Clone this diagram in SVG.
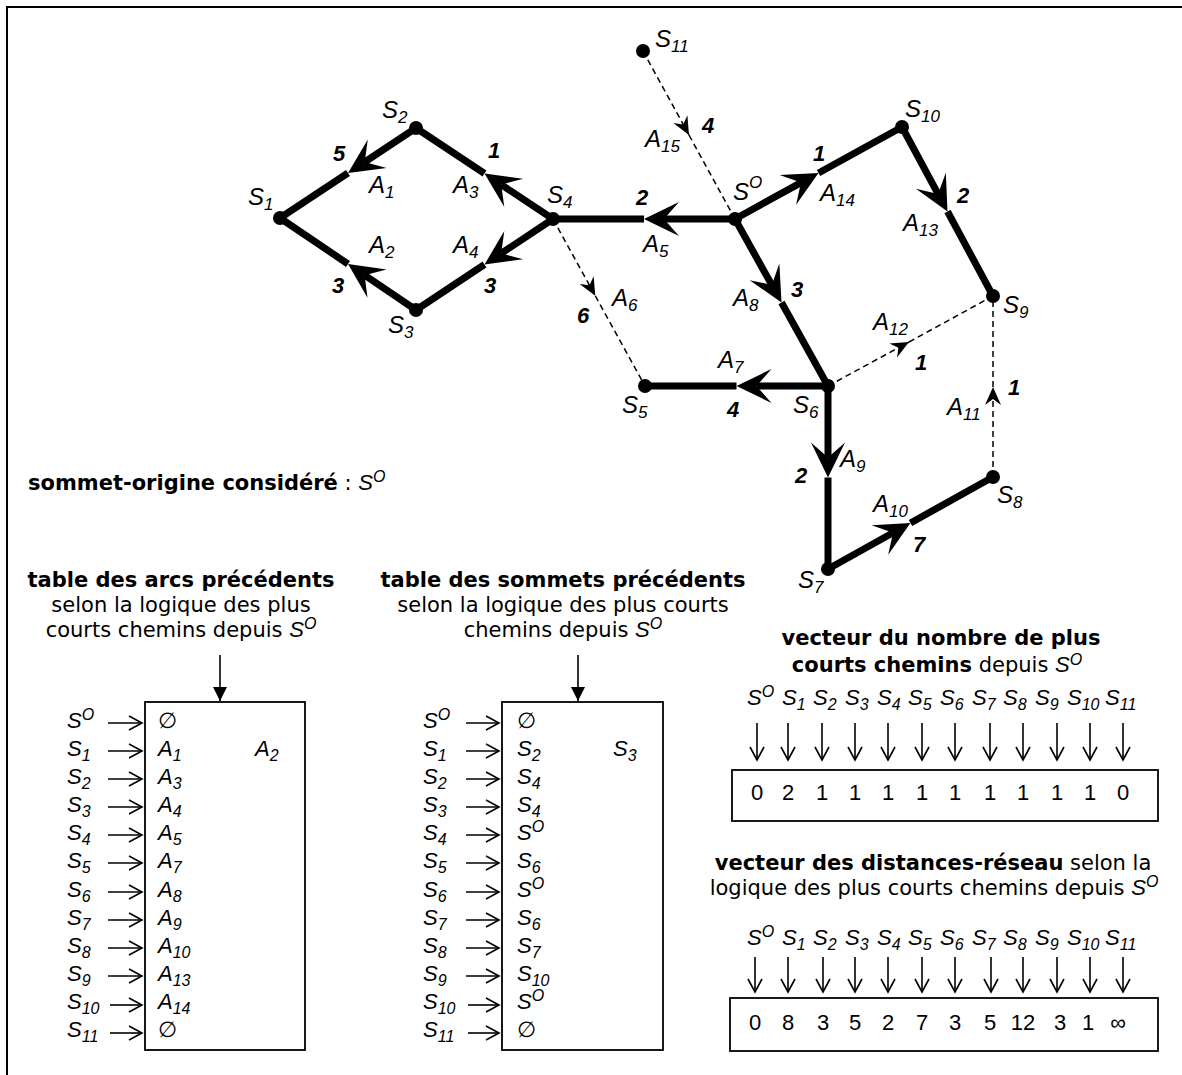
<svg xmlns="http://www.w3.org/2000/svg" width="1182" height="1075" viewBox="0 0 1182 1075">
<style>
.n{font-family:"Liberation Sans",Arial,sans-serif;font-style:italic;font-size:24px;fill:#000}
.n .s{font-size:17px}
.n .o{font-size:17px}
.w{font-family:"Liberation Sans",Arial,sans-serif;font-style:italic;font-weight:bold;font-size:22px;fill:#000}
.t{font-family:"Liberation Sans","DejaVu Sans",Arial,sans-serif;font-style:italic;font-size:22px;fill:#000}
.t .s,.t .o{font-size:16px}
.it{font-family:"Liberation Sans",Arial,sans-serif;font-style:italic;font-size:22px}
.it.o{font-size:16px}
.v{font-family:"Liberation Sans",Arial,sans-serif;font-size:22px;text-anchor:middle;fill:#000}
.tl{font-family:"DejaVu Sans",Verdana,sans-serif;font-size:21px;fill:#000}
.b{font-weight:bold}
.mid{text-anchor:middle}
.thick{stroke:#000;stroke-width:7;fill:none}
.dash{stroke:#000;stroke-width:1.5;stroke-dasharray:6 4;fill:none}
.thin{stroke:#000;stroke-width:1.6;fill:none}
.box{stroke:#000;stroke-width:1.8;fill:#fff}
.dot{fill:#000}
</style>
<defs>
<marker id="ah" markerUnits="userSpaceOnUse" orient="auto" markerWidth="60" markerHeight="60" viewBox="-30 -30 60 60" refX="0" refY="0" overflow="visible">
<path d="M20,0 L-15,-17 L0,0 L-15,17 Z" fill="#000"/>
</marker>
<marker id="dh" markerUnits="userSpaceOnUse" orient="auto" markerWidth="40" markerHeight="40" viewBox="-20 -20 40 40" refX="0" refY="0" overflow="visible">
<path d="M0,0 L-18,-8 L-12,0 L-18,8 Z" fill="#000"/>
</marker>
<marker id="oa" markerUnits="userSpaceOnUse" orient="auto" markerWidth="40" markerHeight="40" viewBox="-20 -20 40 40" refX="0" refY="0" overflow="visible">
<path d="M-13,-7 L0,0 L-13,7" fill="none" stroke="#000" stroke-width="1.6"/>
</marker>
<marker id="tri" markerUnits="userSpaceOnUse" orient="auto" markerWidth="40" markerHeight="40" viewBox="-20 -20 40 40" refX="0" refY="0" overflow="visible">
<path d="M0,0 L-14,-7 L-14,7 Z" fill="#000"/>
</marker>
</defs>

<rect width="1182" height="1075" fill="#fff"/>
<path d="M7,1075 V7 H1182" fill="none" stroke="#000" stroke-width="2"/>

<g id="connectors">
<line class="thick" x1="416" y1="128" x2="364.7" y2="162" marker-end="url(#ah)"/><line class="thick" x1="348" y1="173" x2="280" y2="218"/>
<line class="thick" x1="416" y1="310" x2="364.6" y2="275.2" marker-end="url(#ah)"/><line class="thick" x1="348" y1="264" x2="280" y2="218"/>
<line class="thick" x1="553" y1="219" x2="501.2" y2="184.6" marker-end="url(#ah)"/><line class="thick" x1="484.5" y1="173.5" x2="416" y2="128"/>
<line class="thick" x1="553" y1="219" x2="501.2" y2="253.4" marker-end="url(#ah)"/><line class="thick" x1="484.5" y1="264.5" x2="416" y2="310"/>
<line class="thick" x1="735" y1="219" x2="664" y2="219" marker-end="url(#ah)"/><line class="thick" x1="644" y1="219" x2="553" y2="219"/>
<line class="thick" x1="735" y1="219" x2="801" y2="182.6" marker-end="url(#ah)"/><line class="thick" x1="818.5" y1="173" x2="902" y2="127"/>
<line class="thick" x1="902" y1="127" x2="938" y2="193.9" marker-end="url(#ah)"/><line class="thick" x1="947.5" y1="211.5" x2="993" y2="296"/>
<line class="thick" x1="735" y1="219" x2="771.8" y2="285" marker-end="url(#ah)"/><line class="thick" x1="781.5" y1="302.5" x2="828" y2="386"/>
<line class="thick" x1="828" y1="386" x2="756.5" y2="386" marker-end="url(#ah)"/><line class="thick" x1="736.5" y1="386" x2="645" y2="386"/>
<line class="thick" x1="828" y1="386" x2="828" y2="457.5" marker-end="url(#ah)"/><line class="thick" x1="828" y1="477.5" x2="828" y2="569"/>
<line class="thick" x1="828" y1="569" x2="893" y2="532.7" marker-end="url(#ah)"/><line class="thick" x1="910.5" y1="523" x2="993" y2="477"/>
<line class="dash" x1="643" y1="51" x2="689" y2="135" marker-end="url(#dh)"/><line class="dash" x1="689" y1="135" x2="735" y2="219"/>
<line class="dash" x1="553" y1="219" x2="595.3" y2="295.8" marker-end="url(#dh)"/><line class="dash" x1="595.3" y1="295.8" x2="645" y2="386"/>
<line class="dash" x1="828" y1="386" x2="909" y2="342" marker-end="url(#dh)"/><line class="dash" x1="909" y1="342" x2="993" y2="296"/>
<line class="dash" x1="993" y1="477" x2="993" y2="387" marker-end="url(#dh)"/><line class="dash" x1="993" y1="387" x2="993" y2="296"/>
</g>

<g id="arc-labels">
<text class="n" x="369" y="193">A<tspan class="s" dy="5">1</tspan></text>
<text class="n" x="369" y="253">A<tspan class="s" dy="5">2</tspan></text>
<text class="n" x="453" y="193">A<tspan class="s" dy="5">3</tspan></text>
<text class="n" x="453" y="253">A<tspan class="s" dy="5">4</tspan></text>
<text class="n" x="643" y="252">A<tspan class="s" dy="5">5</tspan></text>
<text class="n" x="612" y="306">A<tspan class="s" dy="5">6</tspan></text>
<text class="n" x="718" y="368">A<tspan class="s" dy="5">7</tspan></text>
<text class="n" x="733" y="306">A<tspan class="s" dy="5">8</tspan></text>
<text class="n" x="840" y="467">A<tspan class="s" dy="5">9</tspan></text>
<text class="n" x="873" y="512">A<tspan class="s" dy="5">10</tspan></text>
<text class="n" x="947" y="415">A<tspan class="s" dy="5">11</tspan></text>
<text class="n" x="873" y="330">A<tspan class="s" dy="5">12</tspan></text>
<text class="n" x="903" y="231">A<tspan class="s" dy="5">13</tspan></text>
<text class="n" x="820" y="201">A<tspan class="s" dy="5">14</tspan></text>
<text class="n" x="645" y="147">A<tspan class="s" dy="5">15</tspan></text>
<text class="w" x="333" y="161">5</text>
<text class="w" x="488" y="158">1</text>
<text class="w" x="332" y="293">3</text>
<text class="w" x="484" y="293">3</text>
<text class="w" x="636" y="205">2</text>
<text class="w" x="702" y="133">4</text>
<text class="w" x="813" y="161">1</text>
<text class="w" x="957" y="203">2</text>
<text class="w" x="791" y="297">3</text>
<text class="w" x="577" y="323">6</text>
<text class="w" x="915" y="370">1</text>
<text class="w" x="727" y="417">4</text>
<text class="w" x="1008" y="395">1</text>
<text class="w" x="795" y="483">2</text>
<text class="w" x="913" y="552">7</text>
</g>

<g id="S1"><circle class="dot" cx="280" cy="218" r="7"/><text class="n" x="248" y="205">S<tspan class="s" dy="5">1</tspan></text></g>
<g id="S2"><circle class="dot" cx="416" cy="128" r="7"/><text class="n" x="382" y="118">S<tspan class="s" dy="5">2</tspan></text></g>
<g id="S3"><circle class="dot" cx="416" cy="310" r="7"/><text class="n" x="388" y="333">S<tspan class="s" dy="5">3</tspan></text></g>
<g id="S4"><circle class="dot" cx="553" cy="219" r="7"/><text class="n" x="547" y="203">S<tspan class="s" dy="5">4</tspan></text></g>
<g id="SO"><circle class="dot" cx="735" cy="219" r="7"/><text class="n" x="733" y="200">S<tspan class="o" dy="-12">O</tspan></text></g>
<g id="S5"><circle class="dot" cx="645" cy="386" r="7"/><text class="n" x="622" y="413">S<tspan class="s" dy="5">5</tspan></text></g>
<g id="S6"><circle class="dot" cx="828" cy="386" r="7"/><text class="n" x="793" y="413">S<tspan class="s" dy="5">6</tspan></text></g>
<g id="S7"><circle class="dot" cx="828" cy="569" r="7"/><text class="n" x="798" y="588">S<tspan class="s" dy="5">7</tspan></text></g>
<g id="S8"><circle class="dot" cx="993" cy="477" r="7"/><text class="n" x="997" y="503">S<tspan class="s" dy="5">8</tspan></text></g>
<g id="S9"><circle class="dot" cx="993" cy="296" r="7"/><text class="n" x="1003" y="313">S<tspan class="s" dy="5">9</tspan></text></g>
<g id="S10"><circle class="dot" cx="902" cy="127" r="7"/><text class="n" x="905" y="117">S<tspan class="s" dy="5">10</tspan></text></g>
<g id="S11"><circle class="dot" cx="643" cy="51" r="7"/><text class="n" x="655" y="47">S<tspan class="s" dy="5">11</tspan></text></g>

<g id="origin-note">
<text class="tl" x="28" y="490"><tspan class="b">sommet-origine considéré</tspan> : <tspan class="it">S</tspan><tspan class="it o" dy="-8">O</tspan></text>
</g>

<g id="table-arcs">
<text class="tl b mid" x="181" y="587">table des arcs précédents</text>
<text class="tl mid" x="181" y="612">selon la logique des plus</text>
<text class="tl mid" x="181" y="637">courts chemins depuis <tspan class="it">S</tspan><tspan class="it o" dy="-8">O</tspan></text>
<line class="thin" x1="220" y1="655" x2="220" y2="701" marker-end="url(#tri)"/>
<rect class="box" x="145" y="702" width="160" height="348"/>
<g class="t">
<text x="67" y="728">S<tspan class="o" dy="-8">O</tspan></text>
<text x="67" y="756">S<tspan class="s" dy="5">1</tspan></text>
<text x="67" y="784">S<tspan class="s" dy="5">2</tspan></text>
<text x="67" y="812">S<tspan class="s" dy="5">3</tspan></text>
<text x="67" y="840">S<tspan class="s" dy="5">4</tspan></text>
<text x="67" y="868">S<tspan class="s" dy="5">5</tspan></text>
<text x="67" y="897">S<tspan class="s" dy="5">6</tspan></text>
<text x="67" y="925">S<tspan class="s" dy="5">7</tspan></text>
<text x="67" y="953">S<tspan class="s" dy="5">8</tspan></text>
<text x="67" y="981">S<tspan class="s" dy="5">9</tspan></text>
<text x="67" y="1009">S<tspan class="s" dy="5">10</tspan></text>
<text x="67" y="1037">S<tspan class="s" dy="5">11</tspan></text>
<text x="158" y="728">∅</text>
<text x="158" y="756">A<tspan class="s" dy="5">1</tspan></text>
<text x="255" y="756">A<tspan class="s" dy="5">2</tspan></text>
<text x="158" y="784">A<tspan class="s" dy="5">3</tspan></text>
<text x="158" y="812">A<tspan class="s" dy="5">4</tspan></text>
<text x="158" y="840">A<tspan class="s" dy="5">5</tspan></text>
<text x="158" y="868">A<tspan class="s" dy="5">7</tspan></text>
<text x="158" y="897">A<tspan class="s" dy="5">8</tspan></text>
<text x="158" y="925">A<tspan class="s" dy="5">9</tspan></text>
<text x="158" y="953">A<tspan class="s" dy="5">10</tspan></text>
<text x="158" y="981">A<tspan class="s" dy="5">13</tspan></text>
<text x="158" y="1009">A<tspan class="s" dy="5">14</tspan></text>
<text x="158" y="1037">∅</text>
</g>
<g class="thin">
<line x1="108" y1="723" x2="142" y2="723" marker-end="url(#oa)"/>
<line x1="108" y1="751" x2="142" y2="751" marker-end="url(#oa)"/>
<line x1="108" y1="779" x2="142" y2="779" marker-end="url(#oa)"/>
<line x1="108" y1="807" x2="142" y2="807" marker-end="url(#oa)"/>
<line x1="108" y1="835" x2="142" y2="835" marker-end="url(#oa)"/>
<line x1="108" y1="863" x2="142" y2="863" marker-end="url(#oa)"/>
<line x1="108" y1="892" x2="142" y2="892" marker-end="url(#oa)"/>
<line x1="108" y1="920" x2="142" y2="920" marker-end="url(#oa)"/>
<line x1="108" y1="948" x2="142" y2="948" marker-end="url(#oa)"/>
<line x1="108" y1="976" x2="142" y2="976" marker-end="url(#oa)"/>
<line x1="110" y1="1005" x2="142" y2="1005" marker-end="url(#oa)"/>
<line x1="110" y1="1033" x2="142" y2="1033" marker-end="url(#oa)"/>
</g>
</g>

<g id="table-sommets">
<text class="tl b mid" x="563" y="587">table des sommets précédents</text>
<text class="tl mid" x="563" y="612">selon la logique des plus courts</text>
<text class="tl mid" x="563" y="637">chemins depuis <tspan class="it">S</tspan><tspan class="it o" dy="-8">O</tspan></text>
<line class="thin" x1="578" y1="655" x2="578" y2="701" marker-end="url(#tri)"/>
<rect class="box" x="502" y="702" width="161" height="348"/>
<g class="t">
<text x="423" y="728">S<tspan class="o" dy="-8">O</tspan></text>
<text x="423" y="756">S<tspan class="s" dy="5">1</tspan></text>
<text x="423" y="784">S<tspan class="s" dy="5">2</tspan></text>
<text x="423" y="812">S<tspan class="s" dy="5">3</tspan></text>
<text x="423" y="840">S<tspan class="s" dy="5">4</tspan></text>
<text x="423" y="868">S<tspan class="s" dy="5">5</tspan></text>
<text x="423" y="897">S<tspan class="s" dy="5">6</tspan></text>
<text x="423" y="925">S<tspan class="s" dy="5">7</tspan></text>
<text x="423" y="953">S<tspan class="s" dy="5">8</tspan></text>
<text x="423" y="981">S<tspan class="s" dy="5">9</tspan></text>
<text x="423" y="1009">S<tspan class="s" dy="5">10</tspan></text>
<text x="423" y="1037">S<tspan class="s" dy="5">11</tspan></text>
<text x="517" y="728">∅</text>
<text x="517" y="756">S<tspan class="s" dy="5">2</tspan></text>
<text x="613" y="756">S<tspan class="s" dy="5">3</tspan></text>
<text x="517" y="784">S<tspan class="s" dy="5">4</tspan></text>
<text x="517" y="812">S<tspan class="s" dy="5">4</tspan></text>
<text x="517" y="840">S<tspan class="o" dy="-8">O</tspan></text>
<text x="517" y="868">S<tspan class="s" dy="5">6</tspan></text>
<text x="517" y="897">S<tspan class="o" dy="-8">O</tspan></text>
<text x="517" y="925">S<tspan class="s" dy="5">6</tspan></text>
<text x="517" y="953">S<tspan class="s" dy="5">7</tspan></text>
<text x="517" y="981">S<tspan class="s" dy="5">10</tspan></text>
<text x="517" y="1009">S<tspan class="o" dy="-8">O</tspan></text>
<text x="517" y="1037">∅</text>
</g>
<g class="thin">
<line x1="466" y1="723" x2="499" y2="723" marker-end="url(#oa)"/>
<line x1="466" y1="751" x2="499" y2="751" marker-end="url(#oa)"/>
<line x1="466" y1="779" x2="499" y2="779" marker-end="url(#oa)"/>
<line x1="466" y1="807" x2="499" y2="807" marker-end="url(#oa)"/>
<line x1="466" y1="835" x2="499" y2="835" marker-end="url(#oa)"/>
<line x1="466" y1="863" x2="499" y2="863" marker-end="url(#oa)"/>
<line x1="466" y1="892" x2="499" y2="892" marker-end="url(#oa)"/>
<line x1="466" y1="920" x2="499" y2="920" marker-end="url(#oa)"/>
<line x1="466" y1="948" x2="499" y2="948" marker-end="url(#oa)"/>
<line x1="466" y1="976" x2="499" y2="976" marker-end="url(#oa)"/>
<line x1="468" y1="1005" x2="499" y2="1005" marker-end="url(#oa)"/>
<line x1="468" y1="1033" x2="499" y2="1033" marker-end="url(#oa)"/>
</g>
</g>

<g id="vecteur-nombre">
<text class="tl b mid" x="941" y="645">vecteur du nombre de plus</text>
<text class="tl mid" x="937" y="672"><tspan class="b">courts chemins</tspan> depuis <tspan class="it">S</tspan><tspan class="it o" dy="-7">O</tspan></text>
<g class="t">
<text x="747" y="705">S<tspan class="o" dy="-8">O</tspan></text>
<text x="782" y="705">S<tspan class="s" dy="5">1</tspan></text>
<text x="813" y="705">S<tspan class="s" dy="5">2</tspan></text>
<text x="845" y="705">S<tspan class="s" dy="5">3</tspan></text>
<text x="877" y="705">S<tspan class="s" dy="5">4</tspan></text>
<text x="908" y="705">S<tspan class="s" dy="5">5</tspan></text>
<text x="940" y="705">S<tspan class="s" dy="5">6</tspan></text>
<text x="972" y="705">S<tspan class="s" dy="5">7</tspan></text>
<text x="1003" y="705">S<tspan class="s" dy="5">8</tspan></text>
<text x="1035" y="705">S<tspan class="s" dy="5">9</tspan></text>
<text x="1067" y="705">S<tspan class="s" dy="5">10</tspan></text>
<text x="1105" y="705">S<tspan class="s" dy="5">11</tspan></text>
</g>
<g class="thin">
<line x1="757" y1="723" x2="757" y2="760" marker-end="url(#oa)"/>
<line x1="788" y1="723" x2="788" y2="760" marker-end="url(#oa)"/>
<line x1="822" y1="723" x2="822" y2="760" marker-end="url(#oa)"/>
<line x1="855" y1="723" x2="855" y2="760" marker-end="url(#oa)"/>
<line x1="888" y1="723" x2="888" y2="760" marker-end="url(#oa)"/>
<line x1="922" y1="723" x2="922" y2="760" marker-end="url(#oa)"/>
<line x1="955" y1="723" x2="955" y2="760" marker-end="url(#oa)"/>
<line x1="990" y1="723" x2="990" y2="760" marker-end="url(#oa)"/>
<line x1="1023" y1="723" x2="1023" y2="760" marker-end="url(#oa)"/>
<line x1="1057" y1="723" x2="1057" y2="760" marker-end="url(#oa)"/>
<line x1="1090" y1="723" x2="1090" y2="760" marker-end="url(#oa)"/>
<line x1="1123" y1="723" x2="1123" y2="760" marker-end="url(#oa)"/>
</g>
<rect class="box" x="732" y="770" width="426" height="51"/>
<g class="v">
<text x="757" y="800">0</text><text x="788" y="800">2</text><text x="822" y="800">1</text><text x="855" y="800">1</text>
<text x="888" y="800">1</text><text x="922" y="800">1</text><text x="955" y="800">1</text><text x="990" y="800">1</text>
<text x="1023" y="800">1</text><text x="1057" y="800">1</text><text x="1090" y="800">1</text><text x="1123" y="800">0</text>
</g>
</g>

<g id="vecteur-distances">
<text class="tl mid" x="933" y="870"><tspan class="b">vecteur des distances-réseau</tspan> selon la</text>
<text class="tl mid" x="934" y="895">logique des plus courts chemins depuis <tspan class="it">S</tspan><tspan class="it o" dy="-8">O</tspan></text>
<g class="t">
<text x="747" y="945">S<tspan class="o" dy="-8">O</tspan></text>
<text x="782" y="945">S<tspan class="s" dy="5">1</tspan></text>
<text x="813" y="945">S<tspan class="s" dy="5">2</tspan></text>
<text x="845" y="945">S<tspan class="s" dy="5">3</tspan></text>
<text x="877" y="945">S<tspan class="s" dy="5">4</tspan></text>
<text x="908" y="945">S<tspan class="s" dy="5">5</tspan></text>
<text x="940" y="945">S<tspan class="s" dy="5">6</tspan></text>
<text x="972" y="945">S<tspan class="s" dy="5">7</tspan></text>
<text x="1003" y="945">S<tspan class="s" dy="5">8</tspan></text>
<text x="1035" y="945">S<tspan class="s" dy="5">9</tspan></text>
<text x="1067" y="945">S<tspan class="s" dy="5">10</tspan></text>
<text x="1105" y="945">S<tspan class="s" dy="5">11</tspan></text>
</g>
<g class="thin">
<line x1="755" y1="957" x2="755" y2="992" marker-end="url(#oa)"/>
<line x1="788" y1="957" x2="788" y2="992" marker-end="url(#oa)"/>
<line x1="823" y1="957" x2="823" y2="992" marker-end="url(#oa)"/>
<line x1="855" y1="957" x2="855" y2="992" marker-end="url(#oa)"/>
<line x1="888" y1="957" x2="888" y2="992" marker-end="url(#oa)"/>
<line x1="922" y1="957" x2="922" y2="992" marker-end="url(#oa)"/>
<line x1="955" y1="957" x2="955" y2="992" marker-end="url(#oa)"/>
<line x1="991" y1="957" x2="991" y2="992" marker-end="url(#oa)"/>
<line x1="1023" y1="957" x2="1023" y2="992" marker-end="url(#oa)"/>
<line x1="1057" y1="957" x2="1057" y2="992" marker-end="url(#oa)"/>
<line x1="1090" y1="957" x2="1090" y2="992" marker-end="url(#oa)"/>
<line x1="1123" y1="957" x2="1123" y2="992" marker-end="url(#oa)"/>
</g>
<rect class="box" x="730" y="998" width="428" height="53"/>
<g class="v">
<text x="755" y="1030">0</text><text x="788" y="1030">8</text><text x="823" y="1030">3</text><text x="855" y="1030">5</text>
<text x="888" y="1030">2</text><text x="922" y="1030">7</text><text x="955" y="1030">3</text><text x="990" y="1030">5</text>
<text x="1023" y="1030">12</text><text x="1060" y="1030">3</text><text x="1088" y="1030">1</text><text x="1118" y="1030">∞</text>
</g>
</g>
</svg>
